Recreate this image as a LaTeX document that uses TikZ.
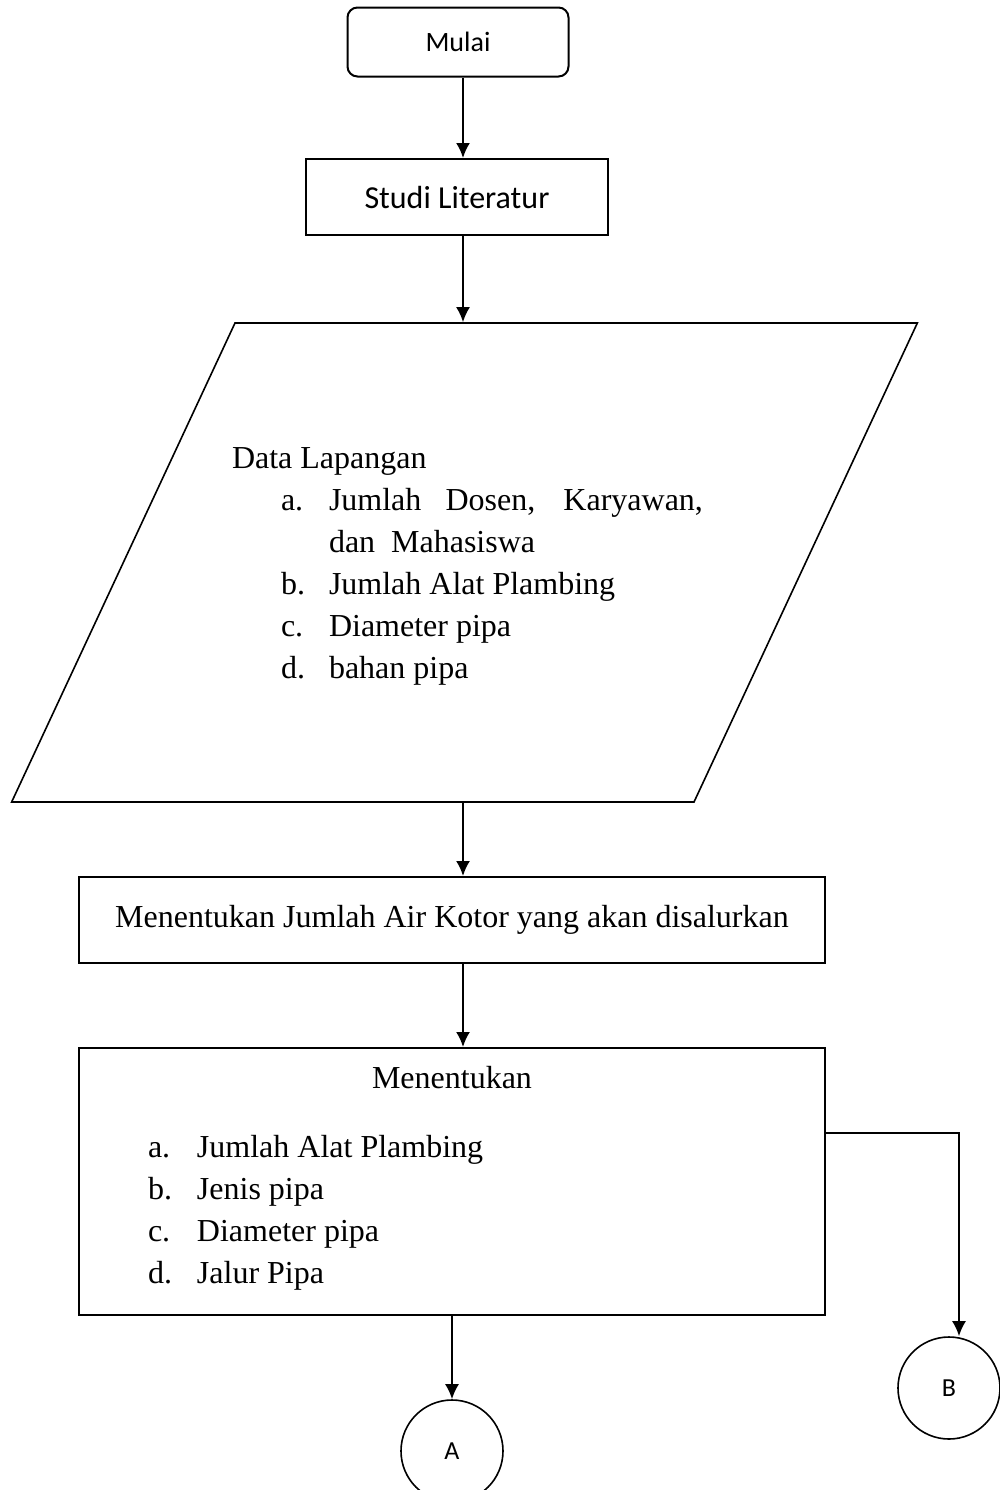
\documentclass[tikz,border=0pt]{standalone}
\usepackage{fontspec}
\setmainfont{Liberation Serif}
\newfontfamily\flowsans{Carlito}
\usetikzlibrary{arrows.meta,shapes.geometric}
\tikzset{
  flow/.style={x=0.5pt, y=-0.5pt, line width=1pt},
  startbox/.style={rectangle, rounded corners=5pt, draw, inner sep=0pt,
    font=\flowsans\fontsize{14}{16}\selectfont},
  procbox/.style={rectangle, draw, inner sep=0pt},
  serftext/.style={font=\fontsize{16}{21}\selectfont, inner sep=0pt},
  iobox/.style={trapezium, trapezium left angle=65, trapezium right angle=115,
    draw, line width=0.8pt},
  connector/.style={circle, draw, line width=0.8pt, minimum size=51pt, inner sep=0pt,
    font=\flowsans\fontsize{13}{15}\selectfont},
  flowarrow/.style={-{Latex[length=7.5pt,width=7pt]}},
}
\begin{document}
\begin{tikzpicture}[flow]
  \useasboundingbox (0,0) rectangle (1000,1490);
  % start and literature study
  \node[startbox, minimum width=110.5pt, minimum height=34.5pt] (mulai) at (458,42) {Mulai};
  \node[procbox, font=\flowsans\fontsize{16}{18}\selectfont,
    minimum width=151pt, minimum height=38pt] (studi) at (457,197) {Studi Literatur};
  % field data input
  \node[iobox, inner xsep=114.75pt, inner ysep=119.75pt] (data) at (464.5,562.5) {};
  \node[serftext, anchor=base west] (datalist) at (231,468) {%
    \begin{tabular}[t]{@{}p{24.5pt}@{}p{24pt}@{}l@{}}
      \multicolumn{3}{@{}l@{}}{Data Lapangan}\\
      & a. & \makebox[187pt][s]{Jumlah Dosen, Karyawan,}\\
      & & dan\ \ Mahasiswa\\
      & b. & Jumlah Alat Plambing\\
      & c. & Diameter pipa\\
      & d. & bahan pipa
    \end{tabular}};
  % waste water amount
  \node[procbox, serftext, minimum width=373pt, minimum height=43pt] (air) at (452,920)
    {Menentukan Jumlah Air Kotor yang akan disalurkan};
  % design box
  \node[procbox, minimum width=373pt, minimum height=133.5pt] (tentukan) at (452,1181.5) {};
  \node[serftext, anchor=base] (tentukantitle) at (452,1088) {Menentukan};
  \node[serftext, anchor=base west] (tentukanlist) at (147,1157) {%
    \begin{tabular}[t]{@{}p{24.5pt}@{}l@{}}
      a. & Jumlah Alat Plambing\\
      b. & Jenis pipa\\
      c. & Diameter pipa\\
      d. & Jalur Pipa
    \end{tabular}};
  % off-page connectors
  \node[connector] (A) at (452,1451) {A};
  \node[connector] (B) at (949,1388) {B};
  % arrows
  \coordinate (axis) at (463,0);
  \draw[flowarrow] (mulai.south -| axis) -- (studi.north -| axis);
  \draw[flowarrow] (studi.south -| axis) -- (data.north -| axis);
  \draw[flowarrow] (data.south -| axis) -- (air.north -| axis);
  \draw[flowarrow] (air.south -| axis) -- (tentukan.north -| axis);
  \draw[flowarrow] (tentukan.south -| A.north) -- (A.north);
  \coordinate (bend) at (959,1133);
  \draw[flowarrow] (tentukan.east |- bend) -- (bend) -- (bend |- B.north);
\end{tikzpicture}
\end{document}
